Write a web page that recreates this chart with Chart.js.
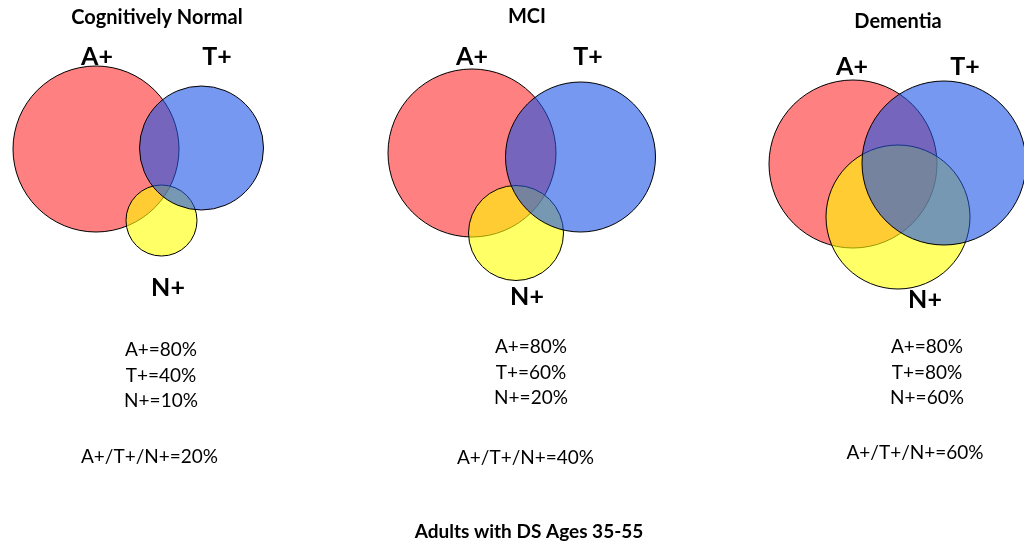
<!DOCTYPE html>
<html>
<head>
<meta charset="utf-8">
<script src="https://cdn.jsdelivr.net/npm/chart.js@4.4.1/dist/chart.umd.min.js"></script>
<style>
  html, body { margin: 0; padding: 0; background: #fff; }
  #venn { display: block; }
</style>
</head>
<body>
<canvas id="venn" width="1024" height="545"></canvas>
<script>
// Groups and percentages
const panels = ['Cognitively Normal', 'MCI', 'Dementia'];
const aPositive = [80, 80, 80];
const tPositive = [40, 60, 80];
const nPositive = [10, 20, 60];
const atnPositive = [20, 40, 60];

// Venn circle layout per panel (chart units)
const aCircles = [
  { x: 96, y: 149, r: 83 },
  { x: 472, y: 153, r: 84 },
  { x: 853, y: 164, r: 84 },
];
const tCircles = [
  { x: 201.5, y: 148, r: 62 },
  { x: 580.5, y: 157, r: 75 },
  { x: 944, y: 163, r: 82 },
];
const nCircles = [
  { x: 161.5, y: 220.5, r: 35.5 },
  { x: 516, y: 233, r: 47.5 },
  { x: 898, y: 217, r: 72 },
];

// Text placement per panel
const titlePos = [[157, 18], [527, 17], [898, 22]];
const aLabelPos = [[97, 57], [472, 57], [852, 67]];
const tLabelPos = [[217, 57], [588, 57], [965, 67]];
const nLabelPos = [[168, 288], [527, 297], [925, 300]];
const statsPos = [[161, 350], [531, 347], [927, 347]];
const atnPos = [[149.5, 457], [525.5, 458], [915, 453]];
const footer = 'Adults with DS Ages 35-55';
const footerPos = [529, 532];

const FONT = 'Lato, "Open Sans", sans-serif';

// Draws panel titles, circle labels and the percentage notes
const textPlugin = {
  id: 'vennText',
  afterDatasetsDraw(chart) {
    const ctx = chart.ctx;
    const xs = chart.scales.x;
    const ys = chart.scales.y;
    const put = (text, pos, font) => {
      ctx.font = font;
      ctx.fillText(text, xs.getPixelForValue(pos[0]), ys.getPixelForValue(pos[1]));
    };
    ctx.save();
    ctx.fillStyle = '#000';
    ctx.textAlign = 'center';
    ctx.textBaseline = 'middle';
    panels.forEach((name, i) => {
      put(name, titlePos[i], 'bold 20px ' + FONT);
      put('A+', aLabelPos[i], 'bold 25px ' + FONT);
      put('T+', tLabelPos[i], 'bold 25px ' + FONT);
      put('N+', nLabelPos[i], 'bold 25px ' + FONT);
      const [sx, sy] = statsPos[i];
      put(`A+=${aPositive[i]}%`, [sx, sy], '19px ' + FONT);
      put(`T+=${tPositive[i]}%`, [sx, sy + 25.5], '19px ' + FONT);
      put(`N+=${nPositive[i]}%`, [sx, sy + 51], '19px ' + FONT);
      put(`A+/T+/N+=${atnPositive[i]}%`, atnPos[i], '19px ' + FONT);
    });
    put(footer, footerPos, 'bold 19px ' + FONT);
    ctx.restore();
  }
};

const ctx = document.getElementById('venn').getContext('2d');
const vennChart = new Chart(ctx, {
  type: 'bubble',
  data: {
    datasets: [
      {
        label: 'T+',
        data: tCircles,
        backgroundColor: 'rgba(27, 83, 230, 0.6)',
        borderColor: '#000',
        borderWidth: 1,
        order: 1,
      },
      {
        label: 'N+',
        data: nCircles,
        backgroundColor: 'rgba(255, 255, 0, 0.6)',
        borderColor: '#000',
        borderWidth: 1,
        order: 2,
      },
      {
        label: 'A+',
        data: aCircles,
        backgroundColor: 'rgba(255, 43, 43, 0.6)',
        borderColor: '#000',
        borderWidth: 1,
        order: 3,
      },
    ],
  },
  options: {
    responsive: false,
    animation: false,
    events: [],
    layout: { padding: 0, autoPadding: false },
    scales: {
      x: { type: 'linear', min: 0, max: 1024, display: false },
      y: { type: 'linear', min: 0, max: 545, reverse: true, display: false },
    },
    plugins: {
      legend: { display: false },
      tooltip: { enabled: false },
    },
  },
  plugins: [textPlugin],
});
</script>
</body>
</html>
